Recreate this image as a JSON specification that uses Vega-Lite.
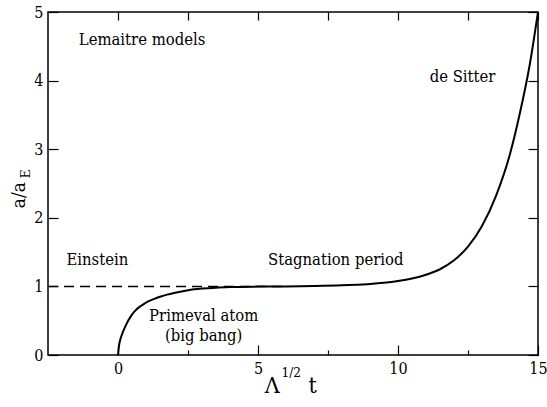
{
  "$schema": "https://vega.github.io/schema/vega-lite/v6.json",
  "width": 490,
  "height": 343,
  "autosize": {"type": "none"},
  "padding": {"left": 48, "top": 12, "right": 9, "bottom": 52},
  "background": "white",
  "config": {
    "view": {"stroke": "black", "strokeWidth": 1.5},
    "font": "DejaVu Serif Condensed, DejaVu Serif",
    "axis": {"domain": false, "grid": false, "title": null, "labelFont": "DejaVu Serif Condensed, DejaVu Serif", "labelFontSize": 16, "labelColor": "black", "tickColor": "black", "tickWidth": 1.2}
  },
  "datasets": {
    "curve": [
      {"t": 0, "a": 0}, {"t": 0.03, "a": 0.12}, {"t": 0.1, "a": 0.25}, {"t": 0.18, "a": 0.34},
      {"t": 0.3, "a": 0.45}, {"t": 0.45, "a": 0.56}, {"t": 0.6, "a": 0.64}, {"t": 0.8, "a": 0.71},
      {"t": 1.0, "a": 0.765}, {"t": 1.25, "a": 0.81}, {"t": 1.5, "a": 0.85}, {"t": 1.75, "a": 0.88},
      {"t": 2.0, "a": 0.905}, {"t": 2.5, "a": 0.945}, {"t": 3.0, "a": 0.968}, {"t": 3.5, "a": 0.982},
      {"t": 4.0, "a": 0.99}, {"t": 5.0, "a": 0.997}, {"t": 6.0, "a": 1.0}, {"t": 7.0, "a": 1.005},
      {"t": 8.0, "a": 1.015}, {"t": 8.5, "a": 1.024}, {"t": 9.0, "a": 1.035}, {"t": 9.5, "a": 1.052},
      {"t": 10.0, "a": 1.078}, {"t": 10.5, "a": 1.115}, {"t": 11.0, "a": 1.17}, {"t": 11.5, "a": 1.25},
      {"t": 12.0, "a": 1.38}, {"t": 12.5, "a": 1.58}, {"t": 13.0, "a": 1.88}, {"t": 13.5, "a": 2.32},
      {"t": 14.0, "a": 2.93}, {"t": 14.35, "a": 3.52}, {"t": 14.7, "a": 4.22}, {"t": 15.0, "a": 5.0}
    ],
    "einstein": [{"t": -2.5, "a": 1}, {"t": 6, "a": 1}],
    "notes": [
      {"t": -1.4, "a": 4.515, "text": "Lemaitre models"},
      {"t": 11.13, "a": 3.98, "text": "de Sitter"},
      {"t": 5.36, "a": 1.31, "text": "Stagnation period"},
      {"t": -1.84, "a": 1.31, "text": "Einstein"}
    ],
    "centered": [
      {"t": 3.06, "a": 0.5, "text": "Primeval atom"},
      {"t": 3.06, "a": 0.205, "text": "(big bang)"}
    ],
    "xtitle": [
      {"t": 5.51, "a": -0.555, "text": "Λ"},
      {"t": 6.95, "a": -0.555, "text": "t"}
    ],
    "xsup": [{"t": 6.19, "a": -0.317, "text": "1/2"}],
    "ytitle": [{"t": -3.33, "a": 2.33, "text": "a/a"}],
    "ysub": [{"t": -3.15, "a": 2.64, "text": "E"}]
  },
  "resolve": {"axis": {"x": "independent", "y": "independent"}},
  "layer": [
    {
      "data": {"name": "curve"},
      "mark": {"type": "line", "color": "black", "strokeWidth": 2, "clip": true, "interpolate": "monotone"},
      "encoding": {
        "x": {"field": "t", "type": "quantitative", "scale": {"domain": [-2.5, 15], "nice": false, "zero": false},
          "axis": {"orient": "bottom", "values": [0, 5, 10, 15], "labelFlush": false, "tickSize": -10, "labelPadding": 15}},
        "y": {"field": "a", "type": "quantitative", "scale": {"domain": [0, 5], "nice": false, "zero": false},
          "axis": {"orient": "left", "values": [0, 1, 2, 3, 4, 5], "tickSize": -10, "labelPadding": 15}}
      }
    },
    {
      "data": {"name": "einstein"},
      "mark": {"type": "line", "color": "black", "strokeWidth": 1.5, "strokeDash": [10, 6]},
      "encoding": {
        "x": {"field": "t", "type": "quantitative", "scale": {"domain": [-2.5, 15], "nice": false, "zero": false},
          "axis": {"orient": "top", "values": [0, 2.5, 5, 7.5, 10, 12.5, 15], "labels": false, "tickSize": -8}},
        "y": {"field": "a", "type": "quantitative", "scale": {"domain": [0, 5], "nice": false, "zero": false},
          "axis": {"orient": "right", "values": [0, 1, 2, 3, 4, 5], "labels": false, "tickSize": -10}}
      }
    },
    {
      "data": {"name": "notes"},
      "mark": {"type": "text", "align": "left", "baseline": "alphabetic", "fontSize": 16.5, "color": "black"},
      "encoding": {
        "x": {"field": "t", "type": "quantitative",
          "axis": {"orient": "bottom", "values": [2.5, 7.5, 12.5], "labels": false, "tickSize": -5}},
        "y": {"field": "a", "type": "quantitative", "axis": null},
        "text": {"field": "text"}
      }
    },
    {
      "data": {"name": "centered"},
      "mark": {"type": "text", "align": "center", "baseline": "alphabetic", "fontSize": 16.5, "color": "black"},
      "encoding": {
        "x": {"field": "t", "type": "quantitative", "axis": null},
        "y": {"field": "a", "type": "quantitative", "axis": null},
        "text": {"field": "text"}
      }
    },
    {
      "data": {"name": "xtitle"},
      "mark": {"type": "text", "align": "center", "baseline": "alphabetic", "fontSize": 23, "color": "black"},
      "encoding": {
        "x": {"field": "t", "type": "quantitative", "axis": null},
        "y": {"field": "a", "type": "quantitative", "axis": null},
        "text": {"field": "text"}
      }
    },
    {
      "data": {"name": "xsup"},
      "mark": {"type": "text", "align": "center", "baseline": "alphabetic", "fontSize": 13.5, "color": "black"},
      "encoding": {
        "x": {"field": "t", "type": "quantitative", "axis": null},
        "y": {"field": "a", "type": "quantitative", "axis": null},
        "text": {"field": "text"}
      }
    },
    {
      "data": {"name": "ytitle"},
      "mark": {"type": "text", "align": "center", "baseline": "alphabetic", "angle": 270, "fontSize": 19, "color": "black"},
      "encoding": {
        "x": {"field": "t", "type": "quantitative", "axis": null},
        "y": {"field": "a", "type": "quantitative", "axis": null},
        "text": {"field": "text"}
      }
    },
    {
      "data": {"name": "ysub"},
      "mark": {"type": "text", "align": "center", "baseline": "alphabetic", "angle": 270, "fontSize": 13.5, "color": "black"},
      "encoding": {
        "x": {"field": "t", "type": "quantitative", "axis": null},
        "y": {"field": "a", "type": "quantitative", "axis": null},
        "text": {"field": "text"}
      }
    }
  ]
}
